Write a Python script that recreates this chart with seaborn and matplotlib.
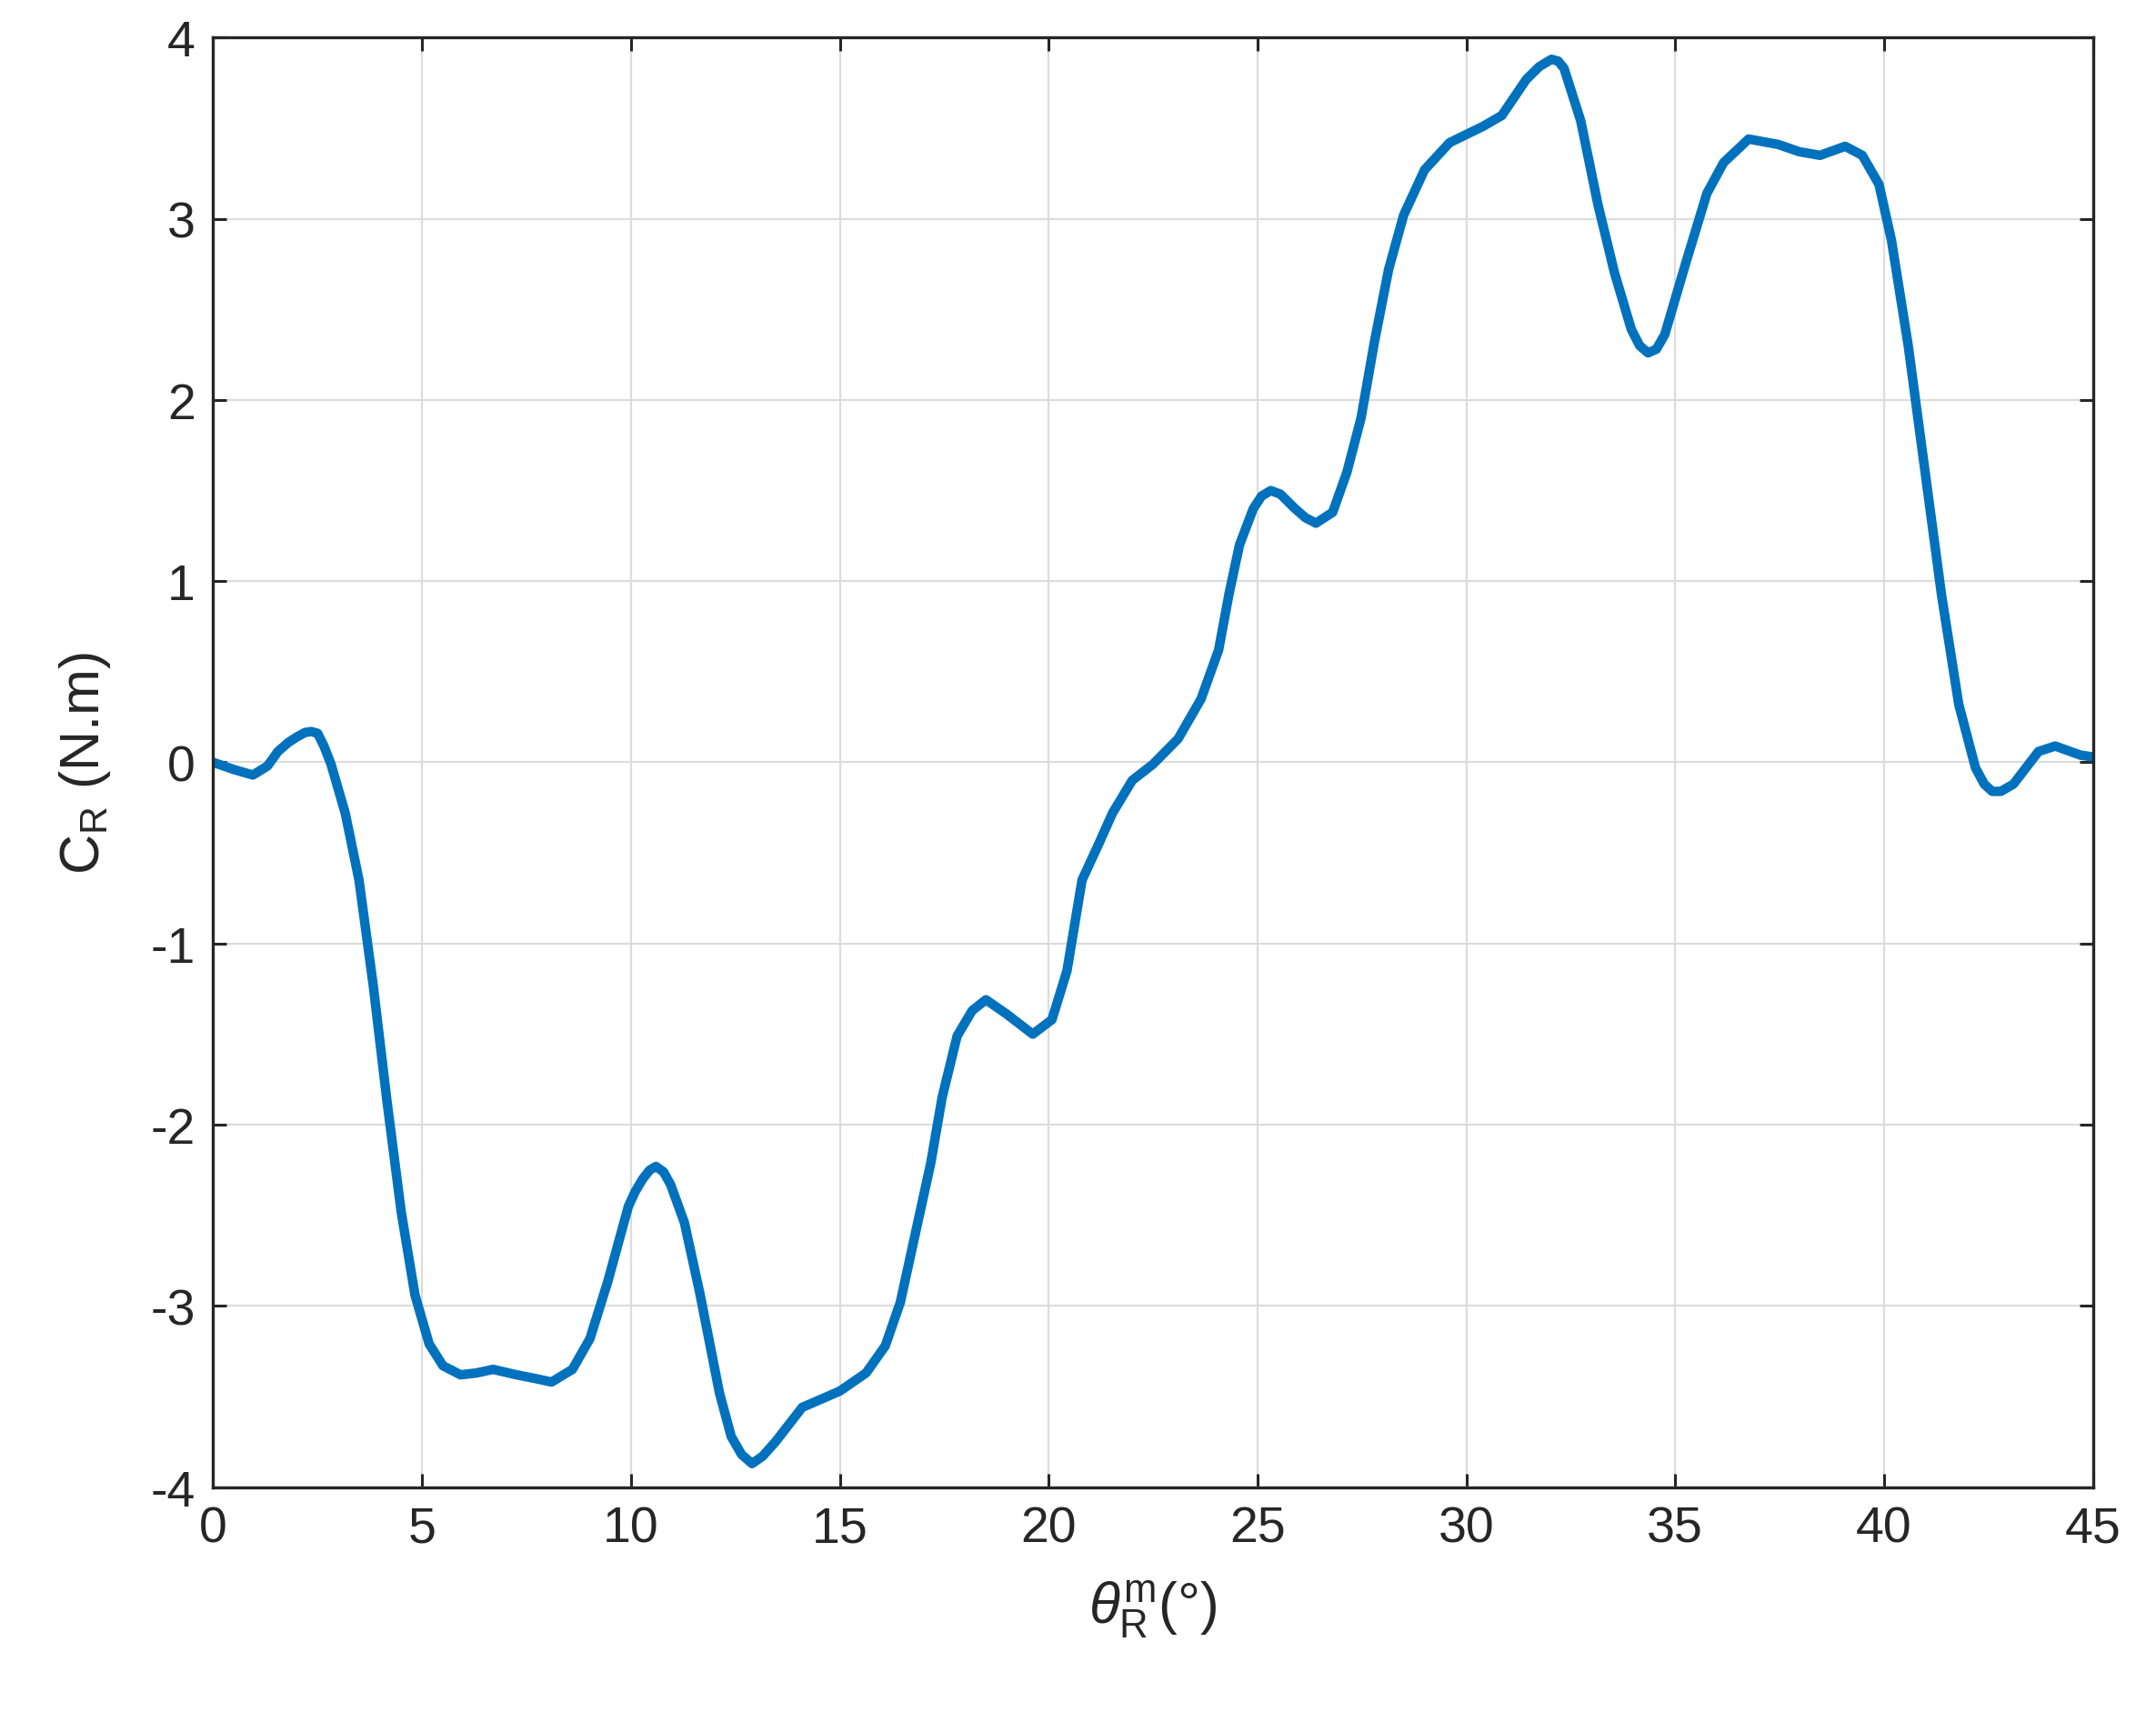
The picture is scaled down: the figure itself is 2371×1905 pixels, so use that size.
import pandas as pd
import matplotlib
matplotlib.use("Agg")
import matplotlib.pyplot as plt
import seaborn as sns

# rotor angle (deg) and cogging torque (N.m)
theta = [0, 0.5, 0.95, 1.3, 1.55, 1.8, 2.0, 2.2, 2.35, 2.5, 2.65, 2.82, 3.16, 3.49,
         3.83, 4.16, 4.5, 4.83, 5.17, 5.5, 5.92, 6.3, 6.7, 7.26, 7.7, 8.1, 8.6, 9.02,
         9.44, 9.94, 10.1, 10.28, 10.45, 10.6, 10.78, 10.95, 11.28, 11.65, 12.12, 12.4,
         12.65, 12.9, 13.15, 13.46, 14.1, 15.0, 15.63, 16.09, 16.45, 16.81, 17.18, 17.45,
         17.81, 18.17, 18.5, 19.0, 19.62, 20.08, 20.44, 20.8, 21.2, 21.53, 22.0, 22.5,
         23.1, 23.65, 24.07, 24.32, 24.57, 24.9, 25.1, 25.32, 25.55, 25.9, 26.15, 26.4,
         26.8, 27.14, 27.48, 27.8, 28.14, 28.5, 29.0, 29.6, 30.4, 30.85, 31.44, 31.75,
         32.04, 32.2, 32.34, 32.74, 33.15, 33.55, 33.95, 34.15, 34.35, 34.55, 34.75,
         35.26, 35.76, 36.16, 36.76, 37.47, 37.97, 38.47, 39.07, 39.48, 39.88, 40.18,
         40.58, 40.98, 41.38, 41.79, 42.19, 42.4, 42.59, 42.8, 43.1, 43.7, 44.1, 44.7,
         45.0]
torque = [0, -0.04, -0.07, -0.02, 0.06, 0.11, 0.14, 0.165, 0.17, 0.16, 0.09, -0.01,
          -0.28, -0.65, -1.23, -1.87, -2.48, -2.94, -3.21, -3.33, -3.38, -3.37, -3.35,
          -3.38, -3.40, -3.42, -3.35, -3.18, -2.87, -2.45, -2.37, -2.30, -2.25, -2.23,
          -2.26, -2.33, -2.54, -2.93, -3.48, -3.72, -3.82, -3.87, -3.83, -3.75, -3.56,
          -3.47, -3.37, -3.22, -2.98, -2.60, -2.21, -1.85, -1.51, -1.37, -1.31, -1.39,
          -1.50, -1.42, -1.15, -0.65, -0.45, -0.28, -0.10, -0.01, 0.13, 0.35, 0.62, 0.93,
          1.20, 1.40, 1.47, 1.50, 1.48, 1.40, 1.35, 1.32, 1.38, 1.60, 1.90, 2.32, 2.72,
          3.02, 3.27, 3.42, 3.51, 3.57, 3.77, 3.84, 3.88, 3.87, 3.83, 3.54, 3.08, 2.70,
          2.39, 2.30, 2.26, 2.28, 2.36, 2.76, 3.14, 3.31, 3.44, 3.41, 3.37, 3.35, 3.40,
          3.35, 3.19, 2.88, 2.30, 1.61, 0.92, 0.32, -0.03, -0.12, -0.16, -0.16, -0.12,
          0.06, 0.09, 0.04, 0.03]

x_ticks = [0, 5, 10, 15, 20, 25, 30, 35, 40, 45]
y_ticks = [-4, -3, -2, -1, 0, 1, 2, 3, 4]

df = pd.DataFrame({"theta": theta, "torque": torque})

sns.set_theme(style="ticks")
plt.rcParams['font.family'] = ['Liberation Sans', 'DejaVu Sans']
plt.rcParams['mathtext.fontset'] = 'custom'
plt.rcParams['mathtext.rm'] = 'Liberation Sans'
plt.rcParams['mathtext.it'] = 'Liberation Sans:italic'
plt.rcParams['mathtext.default'] = 'regular'
plt.rcParams['axes.unicode_minus'] = False

fig = plt.figure(figsize=(23.71, 19.06), dpi=100)
ax = fig.add_axes([0.0989, 0.1413, 0.8718, 0.8365])

sns.lineplot(data=df, x="theta", y="torque", ax=ax, color='#0072BD', linewidth=7.5)
for ln in ax.get_lines():
    ln.set_solid_joinstyle('round')
    ln.set_solid_capstyle('round')

ax.set_xlim(0, 45)
ax.set_ylim(-4, 4)
ax.set_xticks(x_ticks)
ax.set_yticks(y_ticks)
ax.grid(True, color='#dcdcdc', linewidth=1.6)
ax.set_axisbelow(True)

for s in ax.spines.values():
    s.set_visible(True)
    s.set_linewidth(2.4)
    s.set_color('#262626')

ax.tick_params(direction='in', length=11, width=2.2, top=True, right=True,
               labelsize=40, colors='#262626', pad=14)

ax.set_xlabel(r'$\mathit{\theta}^{m}_{R}$(°)', fontsize=45, color='#262626', labelpad=20)
ax.set_ylabel(r'C$_{R}$ (N.m)', fontsize=44, color='#262626', labelpad=30)

fig.savefig('out.png', dpi=100)
